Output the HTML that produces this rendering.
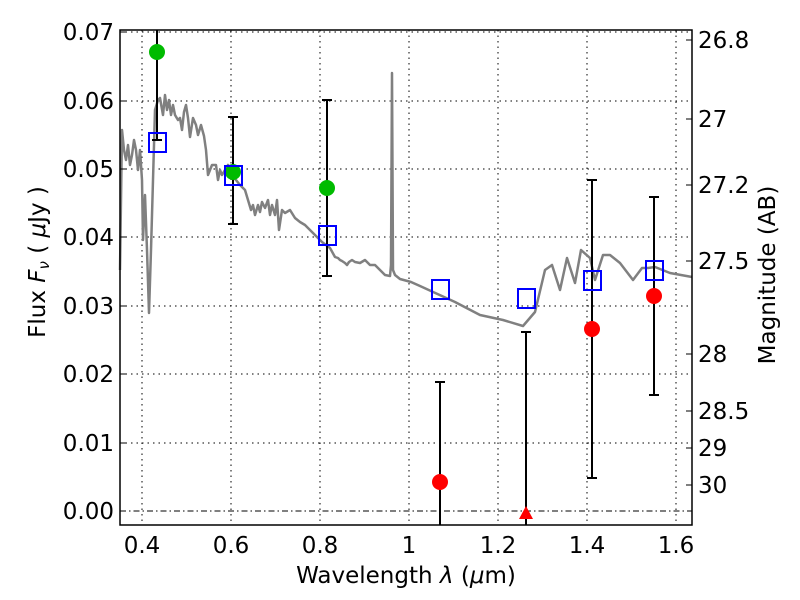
<!DOCTYPE html><html><head><meta charset="utf-8"><style>body{margin:0;background:#fff}svg{display:block}text{font-family:"DejaVu Sans","Liberation Sans",sans-serif;font-size:23px;fill:#000}</style></head><body>
<svg width="800" height="600" viewBox="0 0 800 600">
<g stroke="#000" stroke-width="1" stroke-dasharray="1.5,4">
<line x1="142" y1="30" x2="142" y2="525"/><line x1="231" y1="30" x2="231" y2="525"/><line x1="320" y1="30" x2="320" y2="525"/><line x1="409" y1="30" x2="409" y2="525"/><line x1="498" y1="30" x2="498" y2="525"/><line x1="587" y1="30" x2="587" y2="525"/><line x1="676" y1="30" x2="676" y2="525"/>
<line x1="120" y1="32" x2="692" y2="32"/><line x1="120" y1="101" x2="692" y2="101"/><line x1="120" y1="169" x2="692" y2="169"/><line x1="120" y1="237" x2="692" y2="237"/><line x1="120" y1="306" x2="692" y2="306"/><line x1="120" y1="374" x2="692" y2="374"/><line x1="120" y1="443" x2="692" y2="443"/>
</g>
<line x1="120" y1="511" x2="692" y2="511" stroke="#000" stroke-dasharray="6,3,1.5,3"/>
<polyline fill="none" stroke="#808080" stroke-width="2.5" stroke-linejoin="round" points="120,270 122,130 124,150 126,160 128,145 130,165 132,155 134,140 136,150 138,170 140,150 142,180 143,240 145,195 147,250 149,313 151,250 153,180 155,110 158,100 160,98 163,115 165,95 167,110 169,100 171,115 173,105 175,115 178,120 180,118 182,130 184,112 186,105 188,118 190,137 193,118 196,125 198,135 201,125 204,136 206,150 208,175 210,170 212,165 216,165 218,180 220,170 222,175 225,170 228,165 230,170 233,177 236,180 240,185 245,190 248,200 251,210 253,205 255,215 258,205 260,212 262,202 265,208 268,200 270,215 272,205 275,215 277,200 279,230 282,210 285,213 290,210 295,218 300,222 305,225 310,230 315,235 322,242 326,245 330,248 335,257 338,258 340,260 342,261 345,263 347,265 349,262 352,260 355,262 360,263 365,260 370,265 375,265 380,270 385,275 390,276 391,265 392,73 393,270 395,275 400,279 411,282 420,286 455,302 480,315 503,320 523,326 535,312 545,270 552,265 560,290 567,258 575,283 581,250 590,258 595,280 603,255 610,255 620,263 633,280 642,268 648,268 655,267 670,273 692,277"/>
<g stroke="#000" stroke-width="2">
<line x1="157" y1="30" x2="157" y2="140"/><line x1="152" y1="140" x2="162" y2="140"/>
<line x1="233" y1="117" x2="233" y2="224"/><line x1="228" y1="117" x2="238" y2="117"/><line x1="228" y1="224" x2="238" y2="224"/>
<line x1="327" y1="100" x2="327" y2="276"/><line x1="322" y1="100" x2="332" y2="100"/><line x1="322" y1="276" x2="332" y2="276"/>
<line x1="440" y1="382" x2="440" y2="525"/><line x1="435" y1="382" x2="445" y2="382"/>
<line x1="526" y1="332" x2="526" y2="525"/><line x1="521" y1="332" x2="531" y2="332"/>
<line x1="592" y1="180" x2="592" y2="478"/><line x1="587" y1="180" x2="597" y2="180"/><line x1="587" y1="478" x2="597" y2="478"/>
<line x1="654" y1="197" x2="654" y2="395"/><line x1="649" y1="197" x2="659" y2="197"/><line x1="649" y1="395" x2="659" y2="395"/>
</g>
<g fill="#00bb00"><circle cx="157" cy="52" r="8"/><circle cx="233" cy="172" r="8"/><circle cx="327" cy="188" r="8"/></g>
<g fill="none" stroke="#0000ff" stroke-width="2">
<rect x="149" y="133" width="17" height="19"/><rect x="225" y="166" width="17" height="19"/><rect x="319" y="226" width="17" height="19"/><rect x="432" y="280" width="17" height="19"/><rect x="518" y="289" width="17" height="19"/><rect x="584" y="271" width="17" height="19"/><rect x="646" y="261" width="17" height="19"/>
</g>
<g fill="#ff0000"><circle cx="440" cy="482" r="8"/><circle cx="592" cy="329" r="8"/><circle cx="654" cy="296" r="8"/><polygon points="519,519 533,519 526,506"/></g>
<rect x="120" y="30" width="572" height="495" fill="none" stroke="#000" stroke-width="1.5"/>
<g stroke="#000"><line x1="120" y1="32" x2="126" y2="32"/><line x1="120" y1="101" x2="126" y2="101"/><line x1="120" y1="169" x2="126" y2="169"/><line x1="120" y1="237" x2="126" y2="237"/><line x1="120" y1="306" x2="126" y2="306"/><line x1="120" y1="374" x2="126" y2="374"/><line x1="120" y1="443" x2="126" y2="443"/><line x1="120" y1="511" x2="126" y2="511"/>
<line x1="686" y1="40" x2="692" y2="40"/><line x1="686" y1="119" x2="692" y2="119"/><line x1="686" y1="185" x2="692" y2="185"/><line x1="686" y1="261" x2="692" y2="261"/><line x1="686" y1="354" x2="692" y2="354"/><line x1="686" y1="411" x2="692" y2="411"/><line x1="686" y1="448" x2="692" y2="448"/><line x1="686" y1="485" x2="692" y2="485"/></g>
<g text-anchor="end"><text x="114" y="40">0.07</text><text x="114" y="109">0.06</text><text x="114" y="177">0.05</text><text x="114" y="245">0.04</text><text x="114" y="314">0.03</text><text x="114" y="382">0.02</text><text x="114" y="451">0.01</text><text x="114" y="519">0.00</text></g>
<g><text x="698" y="48">26.8</text><text x="698" y="127">27</text><text x="698" y="193">27.2</text><text x="698" y="269">27.5</text><text x="698" y="362">28</text><text x="698" y="419">28.5</text><text x="698" y="456">29</text><text x="698" y="493">30</text></g>
<g text-anchor="middle"><text x="142" y="553">0.4</text><text x="231" y="553">0.6</text><text x="320" y="553">0.8</text><text x="409" y="553">1</text><text x="498" y="553">1.2</text><text x="587" y="553">1.4</text><text x="676" y="553">1.6</text>
<text x="406" y="583">Wavelength  <tspan font-style="italic">λ</tspan> (<tspan font-style="italic">μ</tspan>m)</text>
<text transform="translate(45,262) rotate(-90)">Flux  <tspan font-style="italic">F<tspan font-size="15" dy="4">ν</tspan></tspan><tspan dy="-4">  (  </tspan><tspan font-style="italic">μ</tspan>Jy )</text>
<text transform="translate(775,275) rotate(-90)">Magnitude (AB)</text></g>
</svg></body></html>
